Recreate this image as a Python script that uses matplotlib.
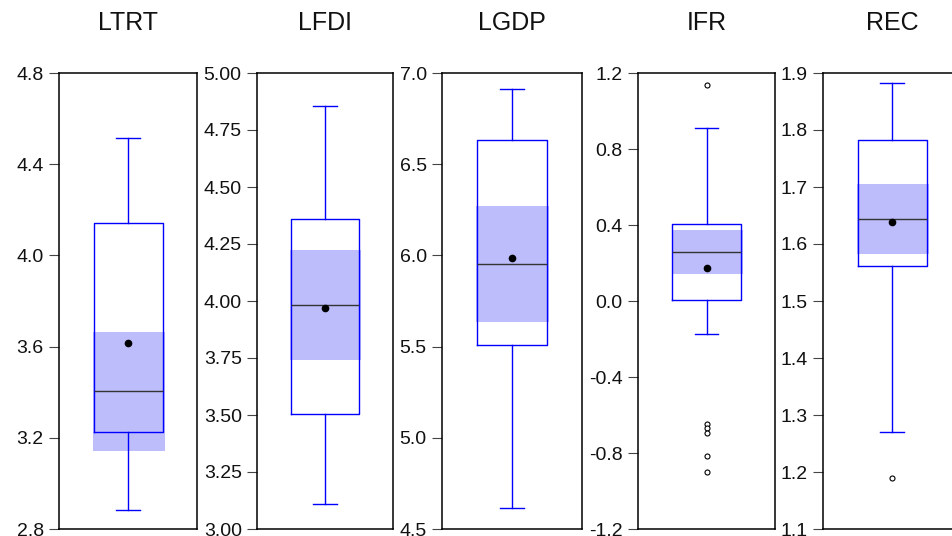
import matplotlib
matplotlib.use('Agg')
import matplotlib.pyplot as plt

plt.rcParams['font.family'] = ['Liberation Sans', 'DejaVu Sans']

# series names and box statistics
names = ['LTRT', 'LFDI', 'LGDP', 'IFR', 'REC']
whislo = [2.882, 3.11, 4.615, -0.174, 1.271]
q1 = [3.225, 3.505, 5.51, 0.005, 1.561]
med = [3.407, 3.982, 5.955, 0.258, 1.644]
q3 = [4.142, 4.36, 6.633, 0.404, 1.783]
whishi = [4.514, 4.855, 6.912, 0.912, 1.882]
means = [3.616, 3.97, 5.985, 0.174, 1.639]
# shaded median confidence band
band_lo = [3.144, 3.74, 5.635, 0.144, 1.582]
band_hi = [3.665, 4.224, 6.27, 0.374, 1.706]
fliers = [[], [], [], [1.137, -0.647, -0.668, -0.693, -0.814, -0.902], [1.19]]

ylims = [(2.8, 4.8), (3.0, 5.0), (4.5, 7.0), (-1.2, 1.2), (1.1, 1.9)]
yticks = [[2.8, 3.2, 3.6, 4.0, 4.4, 4.8],
          [3.00, 3.25, 3.50, 3.75, 4.00, 4.25, 4.50, 4.75, 5.00],
          [4.5, 5.0, 5.5, 6.0, 6.5, 7.0],
          [-1.2, -0.8, -0.4, 0.0, 0.4, 0.8, 1.2],
          [1.1, 1.2, 1.3, 1.4, 1.5, 1.6, 1.7, 1.8, 1.9]]
tickfmt = ['%.1f', '%.2f', '%.1f', '%.1f', '%.1f']

W, H = 952, 536
lefts = [59, 257, 442, 638, 823]
widths = [138, 136, 140, 137, 138]
top, bottom = 73, 529

fig = plt.figure(figsize=(W / 100, H / 100), dpi=100)

for i in range(5):
    ax = fig.add_axes([lefts[i] / W, (H - bottom) / H, widths[i] / W, (bottom - top) / H])

    # band drawn first, box outline over it
    ax.bar(1.005, band_hi[i] - band_lo[i], bottom=band_lo[i], width=0.52,
           color='#BDBDFC', edgecolor='none', zorder=1)

    stats = [dict(whislo=whislo[i], q1=q1[i], med=med[i], q3=q3[i],
                  whishi=whishi[i], mean=means[i], fliers=fliers[i])]
    ax.bxp(stats, positions=[1], widths=0.5, capwidths=0.175, showmeans=True,
           patch_artist=False,
           boxprops=dict(color='#0000FF', linewidth=1.0),
           whiskerprops=dict(color='#0000FF', linewidth=1.0),
           capprops=dict(color='#0000FF', linewidth=1.0),
           medianprops=dict(color='#333333', linewidth=1.0),
           meanprops=dict(marker='o', markerfacecolor='black', markeredgecolor='black',
                          markersize=4.5),
           flierprops=dict(marker='o', markerfacecolor='white', markeredgecolor='black',
                           markersize=3.6, markeredgewidth=0.8),
           manage_ticks=False, zorder=2)

    ax.set_xlim(0.5, 1.5)
    ax.set_ylim(*ylims[i])
    ax.set_yticks(yticks[i])
    ax.set_yticklabels([tickfmt[i] % v for v in yticks[i]])
    ax.set_xticks([])
    ax.tick_params(axis='y', direction='out', length=7, width=0.8, color='#444444',
                   labelsize=14, pad=4, labelcolor='#111111')
    for s in ax.spines.values():
        s.set_linewidth(1.1)
        s.set_color('black')

    fig.text((lefts[i] + widths[i] / 2) / W, (H - 30) / H, names[i],
             ha='center', va='baseline', fontsize=18, color='#111111')

fig.savefig('out.png', dpi=100)
